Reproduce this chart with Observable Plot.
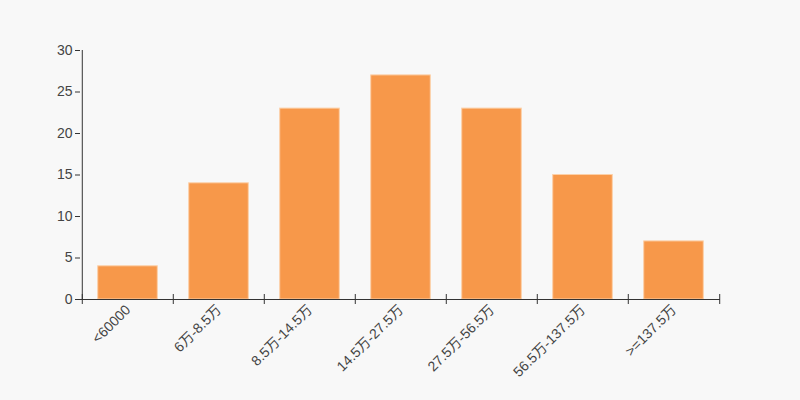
<!DOCTYPE html>
<html>
<head>
<meta charset="utf-8">
<script src="https://cdn.jsdelivr.net/npm/d3@7"></script>
<script src="https://cdn.jsdelivr.net/npm/@observablehq/plot@0.6"></script>
<style>
  html, body { margin: 0; padding: 0; background: #f8f8f8; }
  #chart { width: 800px; height: 400px; }
  #chart svg text { font-size: 14px; font-family: 'Liberation Sans', Arial, 'Noto Sans CJK SC', sans-serif; }
</style>
</head>
<body>
<div id="chart"></div>
<script>
const categories = ["<60000", "6万-8.5万", "8.5万-14.5万", "14.5万-27.5万", "27.5万-56.5万", "56.5万-137.5万", ">=137.5万"];
const counts = [4, 14, 23, 27, 23, 15, 7];
const yTicks = [0, 5, 10, 15, 20, 25, 30];

const data = categories.map((c, i) => ({category: c, count: counts[i]}));

const W = 800, H = 400;
const mL = 80, mR = 80, mT = 50, mB = 101;
const bw = (W - mL - mR) / categories.length;
const font = "'Liberation Sans', Arial, 'Noto Sans CJK SC', sans-serif";

const chart = Plot.plot({
  width: W,
  height: H,
  marginLeft: mL,
  marginRight: mR,
  marginTop: mT,
  marginBottom: mB,
  style: {background: "#f8f8f8", fontFamily: font, fontSize: "14px", color: "#333"},
  x: {type: "band", domain: categories, padding: 0, label: null},
  y: {domain: [0, 30], label: null},
  marks: [
    Plot.barY(data, {
      x: "category", y: "count", fill: "#f7984a",
      stroke: "#fcd0a8", strokeWidth: 1,
      insetLeft: (bw - 60) / 2, insetRight: (bw - 60) / 2
    }),
    Plot.axisY({
      ticks: yTicks, tickSize: 5, tickPadding: 3, stroke: "#333",
      fill: "#444", fontSize: 14, label: null
    }),
    Plot.ruleX(categories.slice(0, 1), {x: d => d, y1: 0, y2: 30, dx: -bw / 2, stroke: "#333"}),
    Plot.axisX({
      tickSize: 0, tickRotate: -45, tickPadding: 8, fill: "#444",
      fontSize: 14, label: null, textAnchor: "end"
    }),
    Plot.ruleY([0], {stroke: "#333"}),
    Plot.ruleX(categories, {x: d => d, y1: 0, y2: 0, insetTop: -5, insetBottom: -5, dx: -bw / 2, stroke: "#333"}),
    Plot.ruleX(categories.slice(-1), {x: d => d, y1: 0, y2: 0, insetTop: -5, insetBottom: -5, dx: bw / 2, stroke: "#333"})
  ]
});
document.getElementById("chart").appendChild(chart);
</script>
</body>
</html>
